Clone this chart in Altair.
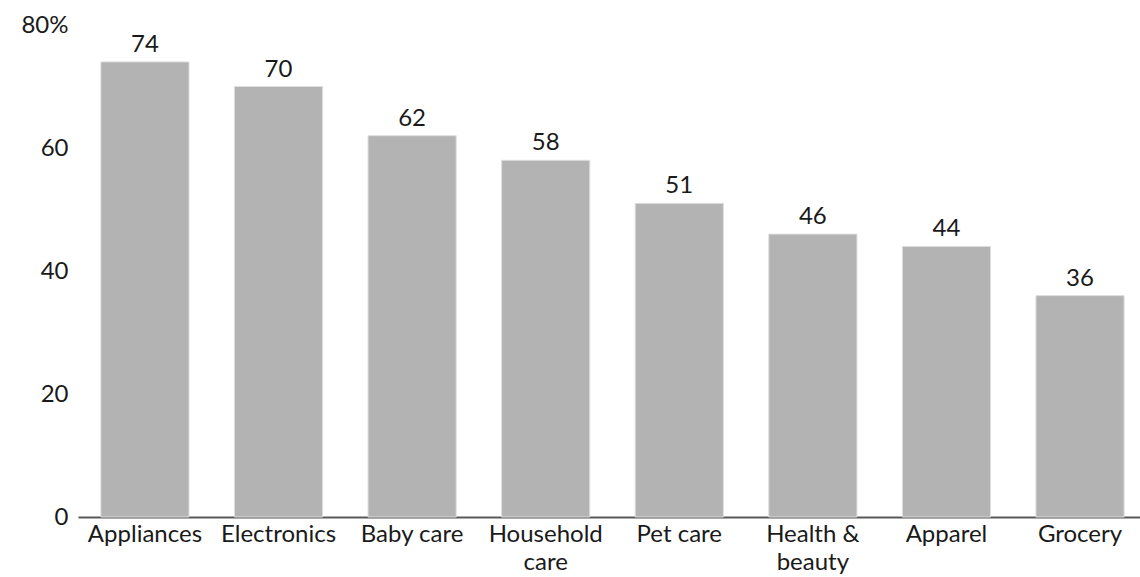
import altair as alt
import pandas as pd

categories = ["Appliances", "Electronics", "Baby care", "Household care",
              "Pet care", "Health & beauty", "Apparel", "Grocery"]
shares = [74, 70, 62, 58, 51, 46, 44, 36]
y_ticks = [0, 20, 40, 60, 80]

df = pd.DataFrame({"category": categories, "share": shares})

FONT = "Lato"
TEXT = "#1a1a1a"
NBSP = "\u00a0"

x_enc = alt.X(
    "category:N",
    sort=categories,
    title=None,
    scale=alt.Scale(paddingInner=0.34, paddingOuter=0.145, align=0.59),
    axis=alt.Axis(
        labelAngle=0,
        ticks=False,
        domain=True,
        domainColor="#595959",
        domainWidth=2,
        labelPadding=5,
        labelFont=FONT,
        labelFontSize=24,
        labelColor=TEXT,
        labelLineHeight=28,
        labelExpr="datum.label == 'Household care' ? ['Household', 'care'] : "
                  "datum.label == 'Health & beauty' ? ['Health &', 'beauty'] : datum.label",
    ),
)

y_enc = alt.Y(
    "share:Q",
    title=None,
    scale=alt.Scale(domain=[0, 80], nice=False),
    axis=alt.Axis(
        values=y_ticks,
        grid=False,
        domain=False,
        ticks=False,
        labelPadding=10,
        labelFont=FONT,
        labelFontSize=24,
        labelColor=TEXT,
        labelExpr=f"datum.value == 80 ? '80%{NBSP}' : datum.label",
    ),
)

bars = alt.Chart(df).mark_bar(
    color="#b3b3b3", stroke="#dedede", strokeWidth=1
).encode(x=x_enc, y=y_enc)

# value labels reuse the same encodings so the axes stay identical
labels = alt.Chart(df).mark_text(
    baseline="alphabetic", dy=-10, font=FONT, fontSize=24, color=TEXT
).encode(x=x_enc, y=y_enc, text="share:Q")

chart = (
    alt.layer(bars, labels)
    .properties(
        width=1062,
        height=492,
        autosize=alt.AutoSizeParams(type="none"),
        padding={"left": 78, "top": 25, "right": 0, "bottom": 60},
        view=alt.ViewBackground(strokeWidth=0),
    )
    .configure_view(strokeWidth=0)
    .configure_axis(grid=False)
    .configure(background="white")
)

chart.save("out.html", embed_options={"renderer": "svg", "actions": False})
